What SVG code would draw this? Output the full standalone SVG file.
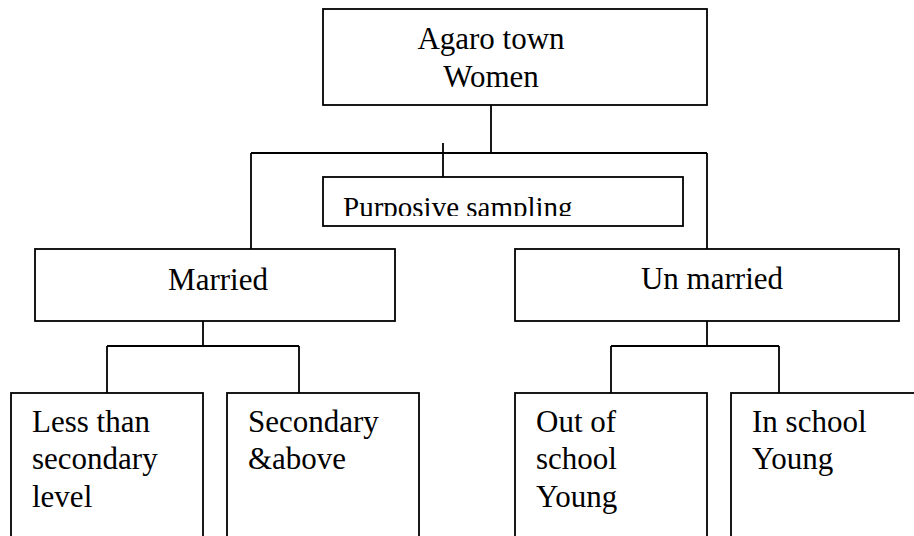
<svg xmlns="http://www.w3.org/2000/svg" width="914" height="536" viewBox="0 0 914 536">
<style>
.box{fill:#fff;stroke:#000;stroke-width:1.8}
.ln{fill:none;stroke:#000;stroke-width:1.8}
text{font-family:"Liberation Serif","Times New Roman",serif;font-size:31px;fill:#000}
.c{text-anchor:middle}
</style>
<defs>
<clipPath id="clipP"><rect x="324" y="178" width="358" height="38"/></clipPath>
</defs>
<rect width="914" height="536" fill="#fff"/>
<g id="connectors">
<path class="ln" d="M491 105V153M251 153H707M251 153V249M707 153V249M443 143V177"/>
<path class="ln" d="M203 321V346M107 346H299M107 346V393M299 346V393"/>
<path class="ln" d="M707 321V346M611 346H779M611 346V393M779 346V393"/>
</g>
<g id="root">
<rect class="box" x="323" y="9" width="384" height="96"/>
<text class="c" x="491" y="49">Agaro town</text>
<text class="c" x="491" y="87">Women</text>
</g>
<g id="purposive">
<rect class="box" x="323" y="177" width="360" height="49"/>
<text x="343" y="217" font-size="29" clip-path="url(#clipP)" style="font-size:29px">Purposive sampling</text>
</g>
<g id="married">
<rect class="box" x="35" y="249" width="360" height="72"/>
<text class="c" x="218" y="290">Married</text>
</g>
<g id="unmarried">
<rect class="box" x="515" y="249" width="384" height="72"/>
<text class="c" x="712" y="289">Un married</text>
</g>
<g id="less">
<rect class="box" x="11" y="393" width="192" height="170"/>
<text x="32" y="432">Less than</text>
<text x="32" y="469">secondary</text>
<text x="32" y="507">level</text>
</g>
<g id="secondary">
<rect class="box" x="227" y="393" width="192" height="170"/>
<text x="248" y="432">Secondary</text>
<text x="248" y="469">&amp;above</text>
</g>
<g id="outschool">
<rect class="box" x="515" y="393" width="192" height="170"/>
<text x="536" y="432">Out of</text>
<text x="536" y="469">school</text>
<text x="536" y="507">Young</text>
</g>
<g id="inschool">
<rect class="box" x="731" y="393" width="200" height="170"/>
<text x="752" y="432">In school</text>
<text x="752" y="469">Young</text>
</g>
</svg>
